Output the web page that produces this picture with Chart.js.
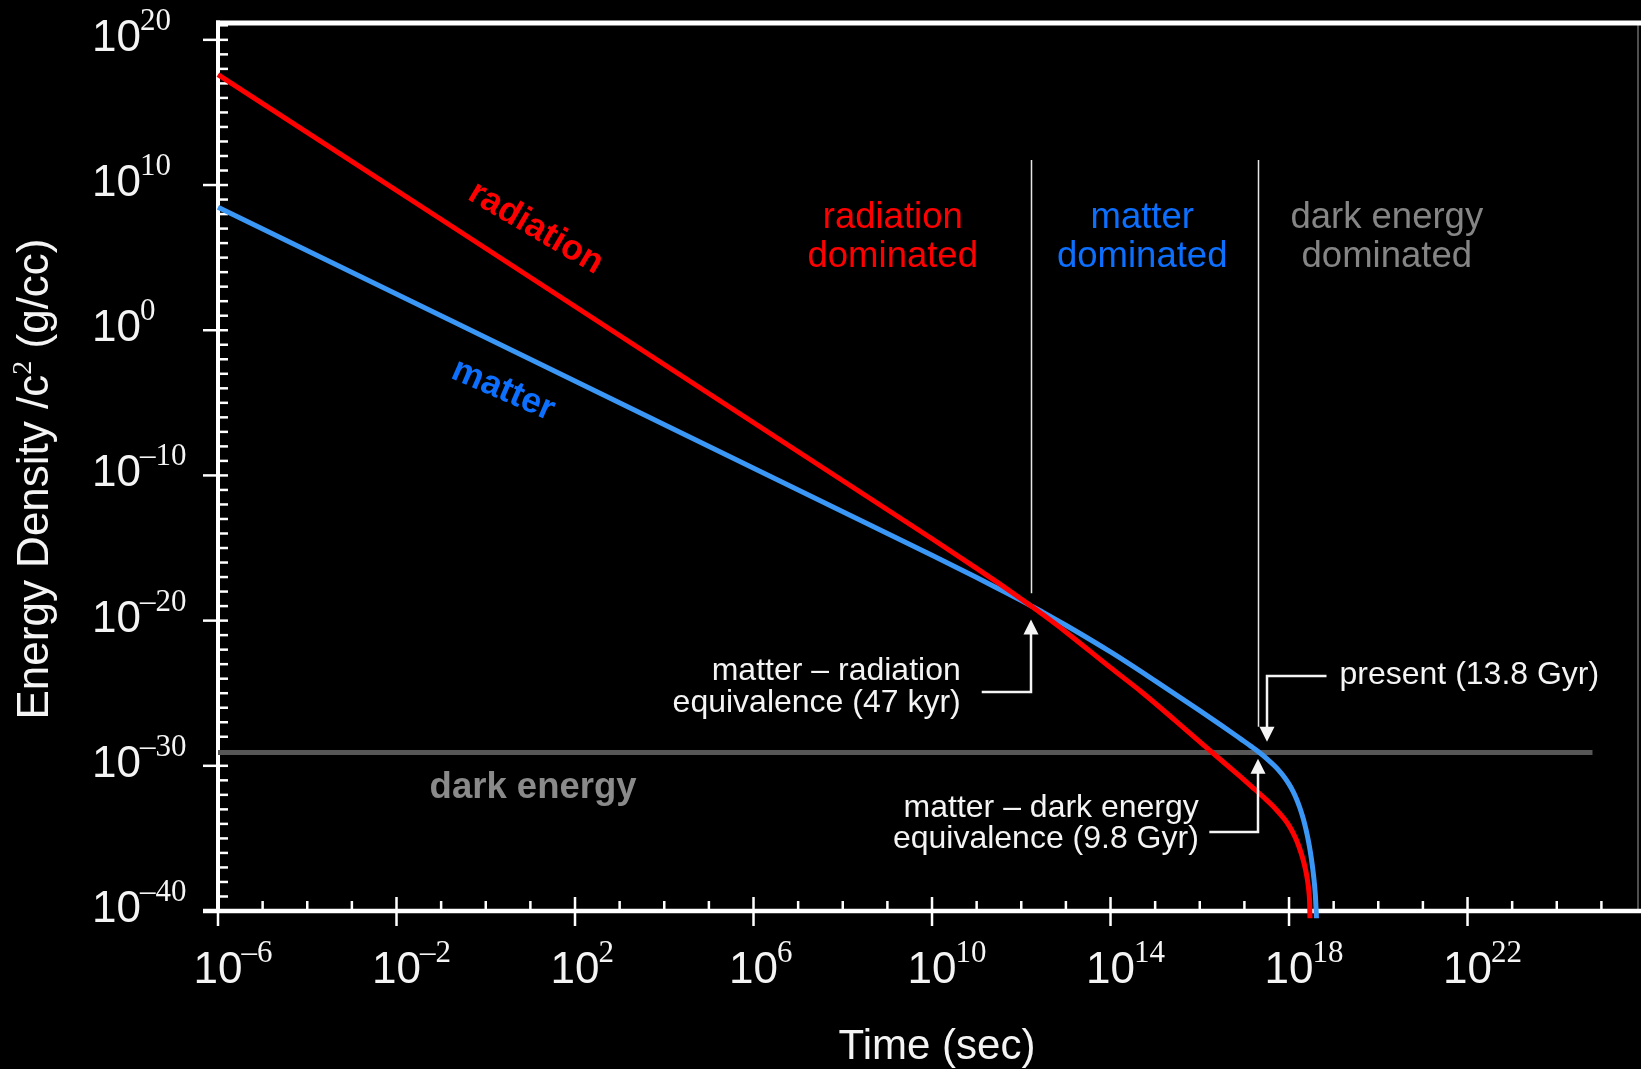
<!DOCTYPE html>
<html>
<head>
<meta charset="utf-8">
<title>Energy density of the universe</title>
<script src="https://cdn.jsdelivr.net/npm/chart.js@4/dist/chart.umd.min.js"></script>
<style>
  html, body { margin: 0; padding: 0; background: #000; }
  #chart { display: block; }
</style>
</head>
<body>
<canvas id="chart" width="1641" height="1069"></canvas>
<script>
// Energy density / c^2 (g/cc) of each component versus cosmic time (s).
// Values are log10 of time in seconds and log10 of density in g/cc.
const radiationLogT   = [-6, 10, 11, 11.5, 12, 12.2, 12.5, 13, 14, 14.69, 15.44, 16.19, 16.93, 17.2, 17.45, 17.68, 17.9, 18.0, 18.09, 18.17, 18.24, 18.31, 18.37, 18.41, 18.44, 18.46, 18.47];
const radiationLogRho = [17.6, -14.36, -16.40, -17.44, -18.51, -18.95, -19.62, -20.78, -23.24, -24.9, -26.85, -28.85, -30.8, -31.53, -32.22, -32.9, -33.68, -34.12, -34.62, -35.15, -35.72, -36.4, -37.15, -37.8, -38.5, -39.3, -40.5];

const matterLogT   = [-6, 10, 11, 11.5, 12, 12.2, 12.5, 13, 14, 15, 16, 16.5, 16.93, 17.15, 17.3, 17.5, 17.68, 17.8, 17.9, 18.0, 18.09, 18.17, 18.24, 18.30, 18.35, 18.41, 18.46, 18.50, 18.54, 18.57, 18.59, 18.605, 18.615];
const matterLogRho = [8.47, -15.50, -17.03, -17.82, -18.62, -18.95, -19.45, -20.32, -22.16, -24.15, -26.2, -27.25, -28.18, -28.66, -29.0, -29.5, -30.02, -30.42, -30.8, -31.26, -31.76, -32.3, -32.87, -33.44, -34.0, -34.8, -35.6, -36.38, -37.3, -38.15, -38.9, -39.8, -40.5];

const darkEnergyLogT   = [-6, 24.8];
const darkEnergyLogRho = [-29.08, -29.08];

// Axis decades
const xRangeLog = [-6, 25.82];
const yRangeLog = [-40, 21.16];
const xMajorExps = [-6, -2, 2, 6, 10, 14, 18, 22];
const xTickExponentLabels = ['\u20136', '\u20132', '2', '6', '10', '14', '18', '22'];
const yMajorExps = [-40, -30, -20, -10, 0, 10, 20];
const yTickExponentLabels = ['\u201340', '\u201330', '\u201320', '\u201310', '0', '10', '20'];

// Era boundaries: matter-radiation and matter-dark energy equality
const eraBoundaryLogT      = [12.21, 17.305];
const eraBoundaryTopLogRho = [11.72, 11.72];
const eraBoundaryEndLogRho = [-18.12, -27.31];

const eraNames   = [['radiation', 'dominated'], ['matter', 'dominated'], ['dark energy', 'dominated']];
const eraColors  = ['#ff0000', '#0d6ffd', '#858585'];
const eraCenterLogT = [9.12, 14.71, 20.19];

const SANS  = '"Liberation Sans", Arial, Helvetica, sans-serif';
const SERIF = '"Liberation Serif", "Times New Roman", Times, serif';

const pow10 = e => Math.pow(10, e);
const toPoints = (ts, rs) => ts.map((t, i) => ({ x: pow10(t), y: pow10(rs[i]) }));

// Arrow callouts (anchored in data space, text offsets in pixels)
const callouts = [
  { lines: ['matter \u2013 radiation', 'equivalence (47 kyr)'], logT: 12.21, tipLogRho: -19.93,
    elbowLogRho: -24.95, legLogT: 11.114, side: 'left', gap: 21, baselineOffsets: [-12, 20] },
  { lines: ['matter \u2013 dark energy', 'equivalence (9.8 Gyr)'], logT: 17.31, tipLogRho: -29.52,
    elbowLogRho: -34.58, legLogT: 16.214, side: 'left', gap: 10.5, baselineOffsets: [-15, 16] },
  { lines: ['present (13.8 Gyr)'], logT: 17.513, tipLogRho: -28.34,
    elbowLogRho: -23.82, legLogT: 18.84, side: 'right', gap: 13, baselineOffsets: [7.5] }
];

function strokeLine(ctx, x1, y1, x2, y2, w) {
  ctx.lineWidth = w;
  ctx.beginPath();
  ctx.moveTo(x1, y1);
  ctx.lineTo(x2, y2);
  ctx.stroke();
}

function drawPower(ctx, expText, x0, baseline, centered) {
  ctx.textAlign = 'left';
  ctx.textBaseline = 'alphabetic';
  ctx.font = '44px ' + SANS;
  const w10 = ctx.measureText('10').width;
  const sx = centered ? x0 - w10 / 2 : x0;
  ctx.fillText('10', sx, baseline);
  ctx.font = '31px ' + SERIF;
  ctx.fillText(expText, sx + w10 - 1, baseline - 21);
}

function drawArrowHead(ctx, x, yTip, dir) {
  const len = 15, half = 7.5;
  ctx.beginPath();
  ctx.moveTo(x, yTip);
  ctx.lineTo(x - half, yTip - dir * len);
  ctx.lineTo(x + half, yTip - dir * len);
  ctx.closePath();
  ctx.fill();
}

const decor = {
  id: 'decor',
  beforeDatasetsDraw(chart) {
    const { ctx, chartArea: a } = chart;
    const xs = chart.scales.x, ys = chart.scales.y;
    ctx.save();
    ctx.fillStyle = '#000';
    ctx.fillRect(0, 0, chart.width, chart.height);

    // frame
    ctx.strokeStyle = '#6a6a6a';
    strokeLine(ctx, a.right, a.top, a.right, a.bottom, 1.5);
    ctx.strokeStyle = '#ffffff';
    strokeLine(ctx, a.left - 2, a.top, chart.width, a.top, 5);
    strokeLine(ctx, a.left, a.top - 2.5, a.left, a.bottom + 2, 4);
    strokeLine(ctx, a.left - 15, a.bottom, chart.width, a.bottom, 4.5);

    // y ticks: one per decade, long ticks every ten decades
    for (let e = Math.ceil(yRangeLog[0]); e <= Math.floor(yRangeLog[1]); e++) {
      const py = ys.getPixelForValue(pow10(e));
      if (yMajorExps.includes(e)) strokeLine(ctx, a.left - 15, py, a.left + 10, py, 2.5);
      else strokeLine(ctx, a.left, py, a.left + 10, py, 2.5);
    }
    // x ticks: one per decade, long ticks every four decades
    for (let e = Math.ceil(xRangeLog[0]); e <= Math.floor(xRangeLog[1]); e++) {
      const px = xs.getPixelForValue(pow10(e));
      if (xMajorExps.includes(e)) strokeLine(ctx, px, a.bottom - 14, px, a.bottom + 15, 2.5);
      else strokeLine(ctx, px, a.bottom - 10, px, a.bottom, 2.5);
    }

    // tick labels
    ctx.fillStyle = '#f4f4f4';
    yMajorExps.forEach((e, i) => {
      const py = ys.getPixelForValue(pow10(e));
      drawPower(ctx, yTickExponentLabels[i], a.left - 126, py + 11, false);
    });
    xMajorExps.forEach((e, i) => {
      const px = xs.getPixelForValue(pow10(e));
      drawPower(ctx, xTickExponentLabels[i], px, a.bottom + 72, true);
    });

    // axis titles
    ctx.font = '42px ' + SANS;
    ctx.textAlign = 'center';
    ctx.fillText('Time (sec)', (a.left + a.right) / 2 + 9, a.bottom + 148);

    ctx.save();
    ctx.translate(48, 479);
    ctx.rotate(-Math.PI / 2);
    const parts = [
      { t: 'Energy Density /c', f: '44px ' + SANS, dy: 0 },
      { t: '2', f: '28px ' + SERIF, dy: -17 },
      { t: ' (g/cc)', f: '44px ' + SANS, dy: 0 }
    ];
    let total = 0;
    parts.forEach(p => { ctx.font = p.f; p.w = ctx.measureText(p.t).width; total += p.w; });
    let cx = -total / 2;
    ctx.textAlign = 'left';
    parts.forEach(p => { ctx.font = p.f; ctx.fillText(p.t, cx, p.dy); cx += p.w; });
    ctx.restore();

    ctx.restore();
  },
  afterDatasetsDraw(chart) {
    const { ctx } = chart;
    const xs = chart.scales.x, ys = chart.scales.y;
    const X = e => xs.getPixelForValue(pow10(e));
    const Y = e => ys.getPixelForValue(pow10(e));
    ctx.save();

    // era boundaries
    ctx.strokeStyle = '#e6e6e6';
    eraBoundaryLogT.forEach((t, i) => {
      const px = Math.round(X(t)) + 0.5;
      strokeLine(ctx, px, Y(eraBoundaryTopLogRho[i]), px, Y(eraBoundaryEndLogRho[i]), 1.5);
    });

    // era names
    ctx.font = '36.5px ' + SANS;
    ctx.textAlign = 'center';
    ctx.textBaseline = 'alphabetic';
    eraNames.forEach((lines, i) => {
      ctx.fillStyle = eraColors[i];
      const px = X(eraCenterLogT[i]);
      lines.forEach((s, j) => ctx.fillText(s, px, 228 + j * 38.5));
    });

    // curve names
    ctx.font = 'bold 35.5px ' + SANS;
    ctx.textBaseline = 'middle';
    const curveNames = [
      { t: 'radiation', c: '#ff0000', logT: 1.12, logRho: 7.04, ang: 30.5 },
      { t: 'matter', c: '#0d6ffd', logT: 0.39, logRho: -4.12, ang: 23.5 }
    ];
    curveNames.forEach(n => {
      ctx.save();
      ctx.translate(X(n.logT), Y(n.logRho));
      ctx.rotate(n.ang * Math.PI / 180);
      ctx.fillStyle = n.c;
      ctx.fillText(n.t, 0, 0);
      ctx.restore();
    });
    ctx.textBaseline = 'alphabetic';
    ctx.font = 'bold 36.5px ' + SANS;
    ctx.fillStyle = '#8a8a8a';
    ctx.fillText('dark energy', X(1.06), Y(-32.22));

    // callouts
    ctx.strokeStyle = '#f4f4f4';
    ctx.fillStyle = '#f4f4f4';
    ctx.lineWidth = 2.5;
    ctx.font = '32px ' + SANS;
    callouts.forEach(c => {
      const px = Math.round(X(c.logT));
      const tipY = Y(c.tipLogRho);
      const elbowY = Math.round(Y(c.elbowLogRho));
      const legX = X(c.legLogT);
      const dir = Math.sign(tipY - elbowY);
      ctx.beginPath();
      ctx.moveTo(legX, elbowY);
      ctx.lineTo(px, elbowY);
      ctx.lineTo(px, tipY - dir * 14);
      ctx.stroke();
      drawArrowHead(ctx, px, tipY, dir);
      if (c.side === 'left') {
        ctx.textAlign = 'right';
        c.lines.forEach((s, j) => ctx.fillText(s, legX - c.gap, elbowY + c.baselineOffsets[j]));
      } else {
        ctx.textAlign = 'left';
        c.lines.forEach((s, j) => ctx.fillText(s, legX + c.gap, elbowY + c.baselineOffsets[j]));
      }
    });
    ctx.restore();
  }
};

new Chart(document.getElementById('chart'), {
  type: 'line',
  data: {
    datasets: [
      { label: 'radiation', data: toPoints(radiationLogT, radiationLogRho),
        borderColor: '#ff0000', borderWidth: 5, pointRadius: 0,
        cubicInterpolationMode: 'monotone', clip: false, order: 0 },
      { label: 'matter', data: toPoints(matterLogT, matterLogRho),
        borderColor: '#3b97f5', borderWidth: 5, pointRadius: 0,
        cubicInterpolationMode: 'monotone', clip: false, order: 1 },
      { label: 'dark energy', data: toPoints(darkEnergyLogT, darkEnergyLogRho),
        borderColor: '#575757', borderWidth: 5, pointRadius: 0, clip: false, order: 2 }
    ]
  },
  options: {
    responsive: false,
    animation: false,
    devicePixelRatio: 1,
    layout: { padding: { left: 218, right: 3, top: 23, bottom: 158 } },
    plugins: { legend: { display: false }, tooltip: { enabled: false } },
    scales: {
      x: { type: 'logarithmic', display: false, min: pow10(xRangeLog[0]), max: pow10(xRangeLog[1]) },
      y: { type: 'logarithmic', display: false, min: pow10(yRangeLog[0]), max: pow10(yRangeLog[1]) }
    }
  },
  plugins: [decor]
});
</script>
</body>
</html>
